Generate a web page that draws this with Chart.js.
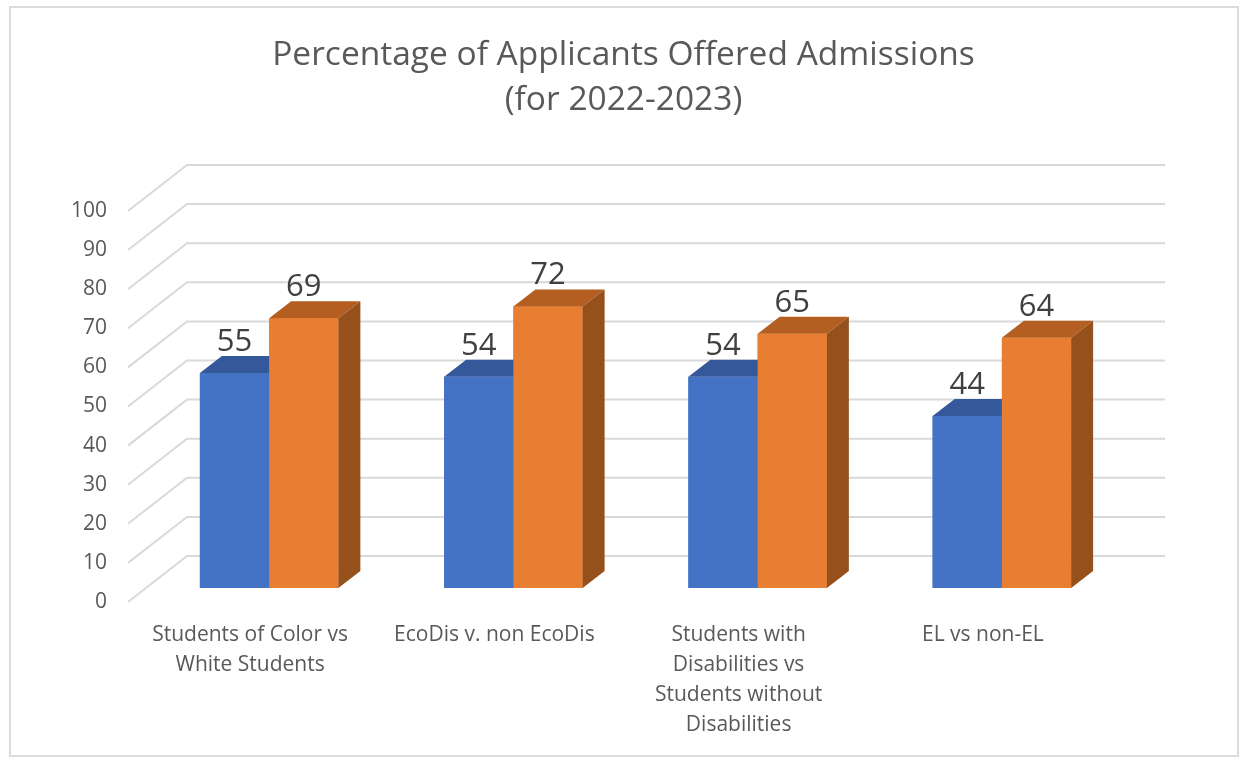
<!DOCTYPE html>
<html>
<head>
<meta charset="utf-8">
<script src="https://cdn.jsdelivr.net/npm/chart.js@4/dist/chart.umd.min.js"></script>
<style>
  html, body { margin: 0; padding: 0; background: #ffffff; }
  #c { display: block; }
</style>
</head>
<body>
<canvas id="c" width="1241" height="759"></canvas>
<script>
// ---- Data ----
const titleLines = ['Percentage of Applicants Offered Admissions', '(for 2022-2023)'];
const categories = [
  ['Students of Color vs', 'White Students'],
  ['EcoDis v. non EcoDis'],
  ['Students with', 'Disabilities vs', 'Students without', 'Disabilities'],
  ['EL vs non-EL']
];
const seriesNames = ['Student group', 'Comparison group'];
const groupValues = [55, 54, 54, 44];
const comparisonValues = [69, 72, 65, 64];
const yTickValues = [0, 10, 20, 30, 40, 50, 60, 70, 80, 90, 100];

// ---- Styles ----
const TEXT = '#595959';
const FONT = "'Open Sans', 'Noto Sans', sans-serif";
const faceColors = [
  { front: '#4472C4', top: '#35589A', side: '#2F5597' },
  { front: '#E87E31', top: '#B45F21', side: '#96501C' }
];
const DEPTH = { dx: 22, dy: -17 };      // bar depth
const FRONT = { dx: -19, dy: 14 };      // front edge of walls relative to bar plane
const BACK = { dx: 40, dy: -32 };       // back wall relative to bar plane

const threeD = {
  id: 'threeD',
  beforeDraw(chart) {
    const ctx = chart.ctx;
    ctx.save();
    ctx.fillStyle = '#ffffff';
    ctx.fillRect(0, 0, chart.width, chart.height);
    ctx.strokeStyle = '#dcdcdc';
    ctx.lineWidth = 2;
    ctx.strokeRect(10, 7, chart.width - 13, chart.height - 10);
    ctx.restore();
  },
  beforeDatasetsDraw(chart) {
    const ctx = chart.ctx;
    const y = chart.scales.y;
    const area = chart.chartArea;
    ctx.save();
    ctx.strokeStyle = '#d9d9d9';
    ctx.lineWidth = 2;
    yTickValues.forEach(v => {
      const py = y.getPixelForValue(v);
      ctx.beginPath();
      ctx.moveTo(area.left + FRONT.dx, py + FRONT.dy);
      ctx.lineTo(area.left + BACK.dx, py + BACK.dy);
      ctx.lineTo(area.right + BACK.dx + 1, py + BACK.dy);
      ctx.stroke();
    });
    ctx.restore();
  },
  afterDatasetsDraw(chart) {
    const ctx = chart.ctx;
    ctx.save();
    // 3D boxes, drawn series by series so later series sit in front
    chart.data.datasets.forEach((ds, di) => {
      const col = faceColors[di];
      chart.getDatasetMeta(di).data.forEach(bar => {
        const p = bar.getProps(['x', 'y', 'base', 'width'], true);
        const x0 = p.x - p.width / 2, x1 = p.x + p.width / 2;
        ctx.fillStyle = col.front;
        ctx.fillRect(x0, p.y, x1 - x0, p.base - p.y);
        ctx.fillStyle = col.top;
        ctx.beginPath();
        ctx.moveTo(x0, p.y);
        ctx.lineTo(x1, p.y);
        ctx.lineTo(x1 + DEPTH.dx, p.y + DEPTH.dy);
        ctx.lineTo(x0 + DEPTH.dx, p.y + DEPTH.dy);
        ctx.closePath();
        ctx.fill();
        ctx.fillStyle = col.side;
        ctx.beginPath();
        ctx.moveTo(x1, p.y);
        ctx.lineTo(x1 + DEPTH.dx, p.y + DEPTH.dy);
        ctx.lineTo(x1 + DEPTH.dx, p.base + DEPTH.dy);
        ctx.lineTo(x1, p.base);
        ctx.closePath();
        ctx.fill();
      });
    });
    // value labels
    ctx.fillStyle = '#404040';
    ctx.font = "31px " + FONT;
    ctx.textAlign = 'center';
    ctx.textBaseline = 'alphabetic';
    chart.data.datasets.forEach((ds, di) => {
      chart.getDatasetMeta(di).data.forEach((bar, i) => {
        const p = bar.getProps(['x', 'y'], true);
        ctx.fillText(String(ds.data[i]), p.x, p.y + DEPTH.dy - 5);
      });
    });
    ctx.restore();
  }
};

new Chart(document.getElementById('c'), {
  type: 'bar',
  data: {
    labels: categories,
    datasets: [
      { label: seriesNames[0], data: groupValues, backgroundColor: faceColors[0].front,
        categoryPercentage: 0.567, barPercentage: 1.0 },
      { label: seriesNames[1], data: comparisonValues, backgroundColor: faceColors[1].front,
        categoryPercentage: 0.567, barPercentage: 1.0 }
    ]
  },
  options: {
    responsive: false,
    animation: false,
    devicePixelRatio: 1,
    layout: { padding: { left: 6, right: 0, top: 0, bottom: 0 } },
    plugins: {
      legend: { display: false },
      tooltip: { enabled: true },
      title: {
        display: true,
        text: titleLines,
        color: TEXT,
        font: { family: FONT, size: 33.5, weight: 'normal', lineHeight: 1.343 },
        padding: { top: 32.5, bottom: 74.5 }
      }
    },
    scales: {
      x: {
        grid: { display: false, drawTicks: false },
        border: { display: false },
        ticks: {
          color: TEXT,
          font: { family: FONT, size: 21, lineHeight: 1.43 },
          padding: 32,
          labelOffset: -19,
          maxRotation: 0,
          autoSkip: false
        },
        afterFit(scale) { scale.height = 171; }
      },
      y: {
        min: 0,
        max: 100,
        grid: { display: false, drawTicks: false },
        border: { display: false },
        afterBuildTicks(scale) { scale.ticks = yTickValues.map(v => ({ value: v })); },
        ticks: {
          color: TEXT,
          font: { family: FONT, size: 21 },
          padding: 40,
          labelOffset: 14
        },
        afterFit(scale) { scale.width = 141; }
      },
      yRight: {
        position: 'right',
        display: true,
        min: 0,
        max: 100,
        grid: { display: false, drawTicks: false },
        border: { display: false },
        ticks: { display: false },
        afterFit(scale) { scale.width = 117; }
      }
    }
  },
  plugins: [threeD]
});
</script>
</body>
</html>
